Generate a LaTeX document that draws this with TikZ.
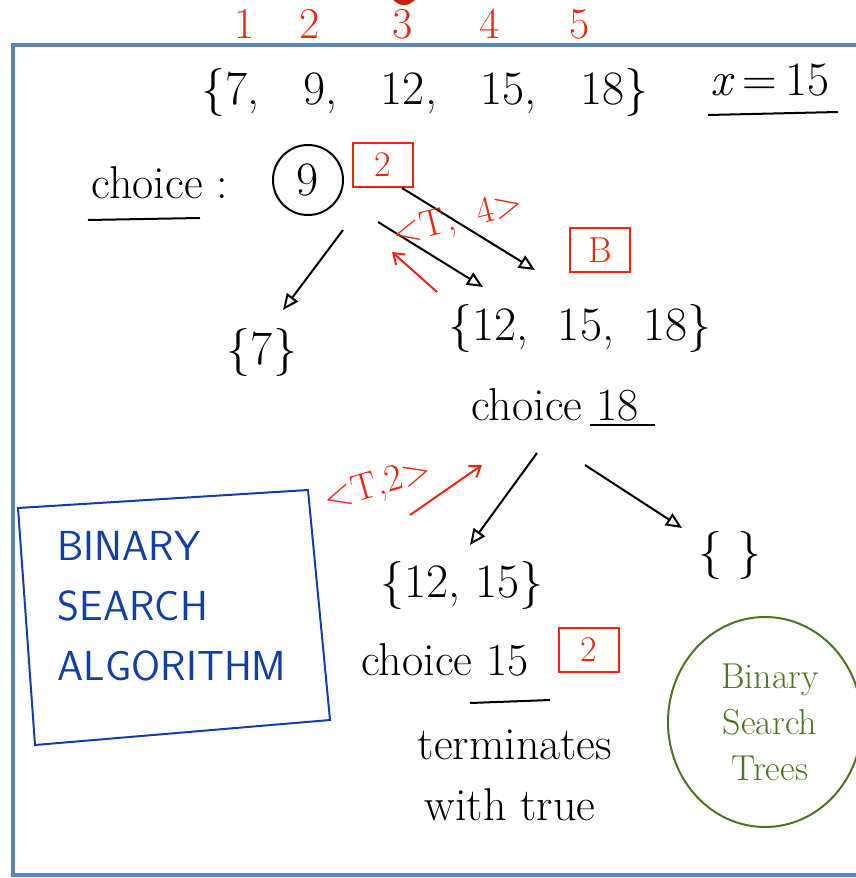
\documentclass[tikz,border=0pt]{standalone}
\usetikzlibrary{positioning,arrows.meta,calc}
\definecolor{frameblue}{RGB}{88,130,190}
\definecolor{inkred}{RGB}{232,40,16}
\definecolor{inkblue}{RGB}{18,62,168}
\definecolor{inkgreen}{RGB}{74,118,34}
\tikzset{
  big/.style={font=\fontsize{48}{52}\selectfont},
  mid/.style={font=\fontsize{46}{50}\selectfont},
  rednum/.style={text=inkred,font=\fontsize{44}{48}\selectfont},
  redlbl/.style={text=inkred,font=\fontsize{38}{42}\selectfont,inner sep=0pt},
  redbox/.style={draw=inkred,line width=2pt,text=inkred,font=\fontsize{36}{40}\selectfont,minimum width=60pt,minimum height=44pt,inner sep=1pt},
  hand/.style={line width=2pt,-{Triangle[open,length=16pt,width=14pt]}},
  redhand/.style={inkred,line width=2pt,-{Straight Barb[length=10pt,width=14pt]}},
  uline/.style={line width=2pt},
}
\begin{document}
\begin{tikzpicture}[x=1pt,y=-1pt]
  \useasboundingbox (0,0) rectangle (856,878);
  \fill[inkred!85!black] (404,-9) circle (14);
  \draw[frameblue,line width=4pt] (862,45) -- (13,45) -- (13,875) -- (862,875);
  \foreach \n/\x in {1/245,2/310,3/403,4/490,5/580} \node[rednum] (num\n) at (\x,24) {\n};
  \node[big] (top) at (425,92) {\{7,\ \ \ 9,\ \ \ 12,\ \ \ 15,\ \ \ 18\}};
  \node[big] (xval) at (770,80) {\textit{x}\,=\,15}; \draw[uline] (708,115) -- (838,112);
  \node[mid] (chc) at (160,183) {choice :}; \draw[uline] (88,220) -- (200,218);
  \node[draw,circle,line width=2pt,minimum size=70pt,inner sep=0pt,big] (nine) at (308,180) {9};
  \node[redbox] (rb1) at (383,165) {2};
  \node[big] (sev) at (262,352) {\{7\}};
  \node[big] (mid) at (580,328) {\{12,\ \ 15,\ \ 18\}};
  \node[redbox] (rb2) at (600,250) {B};
  \draw[hand] ($(nine)+(35,50)$) -- ($(sev)+(21,-42)$);
  \draw[hand] ($(nine)+(70,42)$) -- ($(mid)+(-97,-41)$);
  \draw[hand] ($(rb1.south)+(19,0)$) -- ($(mid)+(-45,-58)$);
  \node[redlbl,rotate=14] (tf) at (458,220) {<T,\ \ 4>};
  \coordinate (hk1) at (437,292); \coordinate (hk2) at (392,252);
  \draw[redhand] (hk1) -- (hk2);
  \node[mid] (ch18) at (555,405) {choice 18}; \draw[uline] (590,425) -- (655,425);
  \node[big] (emp) at (730,555) {\{\ \}};
  \node[big] (low) at (462,585) {\{12,\ 15\}};
  \draw[hand] ($(ch18)+(-18,48)$) -- ($(low)+(8,-40)$);
  \draw[hand] ($(ch18)+(30,60)$) -- ($(emp)+(-48,-27)$);
  \node[redlbl,rotate=16] (tt) at (378,486) {<T,2>};
  \coordinate (ra1) at (410,515); \coordinate (ra2) at (482,465);
  \draw[redhand] (ra1) -- (ra2);
  \node[mid] (c15) at (445,660) {choice 15};
  \node[redbox] (rb3) at (589,650) {2}; \draw[uline] (470,703) -- (550,700);
  \node[mid] (term) at (515,745) {terminates};
  \node[mid] (wtrue) at (510,805) {with true};
  \draw[inkblue,line width=2pt] (18,508) -- (308,490) -- (330,720) -- (35,745) -- cycle;
  \node[text=inkblue,align=left,font=\sffamily\fontsize{42}{60}\selectfont] (bsa) at (172,606) {BINARY\\SEARCH\\ALGORITHM};
  \draw[inkgreen,line width=2pt] (765,722) ellipse (97 and 105);
  \node[text=inkgreen,align=center,font=\fontsize{36}{46}\selectfont] (bst) at (770,722) {Binary\\Search\\Trees};
\end{tikzpicture}
\end{document}
